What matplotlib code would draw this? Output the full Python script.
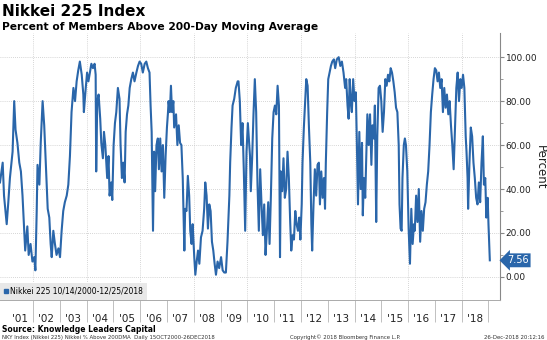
import numpy as np
import matplotlib
matplotlib.use("Agg")
import matplotlib.pyplot as plt
import matplotlib.transforms as mtransforms
from matplotlib.lines import Line2D
from matplotlib.ticker import FixedLocator, FormatStrFormatter, NullFormatter

# % of Nikkei 225 members above their 200-day moving average
years_a = [2000.77, 2000.87, 2000.92, 2001.02, 2001.08, 2001.14, 2001.24, 2001.30, 2001.35, 2001.42,
           2001.49, 2001.55, 2001.61, 2001.66, 2001.71, 2001.79, 2001.84, 2001.91, 2001.98, 2002.05,
           2002.09, 2002.14, 2002.17, 2002.24, 2002.29, 2002.36, 2002.42, 2002.49, 2002.55, 2002.61,
           2002.66, 2002.70, 2002.76, 2002.82, 2002.88, 2002.95, 2003.01, 2003.07, 2003.13, 2003.19,
           2003.26, 2003.32, 2003.38, 2003.44, 2003.51, 2003.57, 2003.63, 2003.69, 2003.75, 2003.82,
           2003.88]
pct_a = [43, 52, 37, 24, 34, 45, 57, 80, 67, 61, 52, 48, 37, 24, 12, 23, 10, 15, 7, 9,
         3, 30, 51, 42, 61, 80, 69, 48, 31, 27, 15, 9, 21, 15, 10, 13, 9, 21, 30, 34,
         37, 42, 55, 75, 86, 80, 89, 94, 98, 92, 83]

years_b = [2003.90, 2003.97, 2004.02, 2004.07, 2004.11, 2004.18, 2004.24, 2004.30, 2004.34, 2004.36,
           2004.40, 2004.45, 2004.51, 2004.55, 2004.61, 2004.65, 2004.70, 2004.74, 2004.77, 2004.82,
           2004.86, 2004.92, 2004.96, 2005.01, 2005.06, 2005.11, 2005.17, 2005.23, 2005.27, 2005.32,
           2005.37, 2005.42, 2005.46, 2005.51, 2005.56, 2005.61, 2005.67, 2005.73, 2005.79, 2005.86,
           2005.92, 2005.98, 2006.04, 2006.10, 2006.17, 2006.23, 2006.29, 2006.35, 2006.39, 2006.43,
           2006.48, 2006.52, 2006.56, 2006.61, 2006.66, 2006.70, 2006.75, 2006.80, 2006.85, 2006.90,
           2006.95, 2007.00, 2007.04]
pct_b = [75, 86, 93, 89, 92, 97, 95, 97, 92, 48, 80, 83, 72, 61, 54, 66, 60, 51, 45, 55,
         37, 43, 35, 60, 70, 75, 86, 81, 60, 45, 52, 43, 66, 74, 78, 86, 90, 93, 89, 93,
         96, 98, 97, 93, 97, 98, 95, 93, 78, 66, 21, 57, 39, 60, 63, 49, 63, 48, 60, 36,
         55, 68, 75]

years_c = [2007.06, 2007.11, 2007.15, 2007.19, 2007.24, 2007.27, 2007.34, 2007.39, 2007.44, 2007.49,
           2007.54, 2007.59, 2007.65, 2007.68, 2007.73, 2007.78, 2007.83, 2007.87, 2007.92, 2007.96,
           2008.02, 2008.06, 2008.11, 2008.16, 2008.21, 2008.27, 2008.33, 2008.39, 2008.43, 2008.48,
           2008.53, 2008.58, 2008.63, 2008.68, 2008.73, 2008.78, 2008.83, 2008.89, 2008.95, 2009.02,
           2009.08, 2009.14, 2009.20, 2009.26, 2009.33, 2009.36, 2009.41, 2009.45, 2009.51, 2009.57,
           2009.64, 2009.67, 2009.72, 2009.77, 2009.82, 2009.87, 2009.92, 2009.97, 2010.02]
pct_c = [80, 75, 87, 75, 80, 68, 74, 60, 69, 61, 60, 45, 12, 31, 30, 46, 37, 21, 15, 24,
         9, 1, 7, 12, 6, 18, 21, 31, 43, 37, 22, 33, 30, 16, 12, 6, 1, 7, 4, 9,
         3, 2, 2, 16, 37, 52, 68, 78, 81, 86, 89, 89, 80, 60, 70, 48, 21, 57, 70]

years_d = [2010.10, 2010.13, 2010.18, 2010.23, 2010.28, 2010.33, 2010.38, 2010.43, 2010.48, 2010.53,
           2010.58, 2010.63, 2010.68, 2010.73, 2010.78, 2010.83, 2010.88, 2010.93, 2010.98, 2011.03,
           2011.08, 2011.13, 2011.18, 2011.22, 2011.25, 2011.30, 2011.35, 2011.40, 2011.45, 2011.50,
           2011.55, 2011.60, 2011.64, 2011.69, 2011.74, 2011.79, 2011.84, 2011.89, 2011.94, 2011.98,
           2012.03, 2012.06, 2012.11, 2012.16, 2012.20, 2012.25, 2012.30, 2012.35, 2012.39, 2012.42,
           2012.47, 2012.52, 2012.57, 2012.62, 2012.67, 2012.71, 2012.76, 2012.81, 2012.86, 2012.90,
           2012.93, 2012.98, 2013.02, 2013.07, 2013.12, 2013.17, 2013.23]
pct_d = [55, 39, 54, 74, 90, 75, 42, 21, 49, 33, 19, 33, 10, 21, 34, 15, 37, 63, 75, 78,
         74, 87, 78, 9, 48, 39, 54, 36, 40, 57, 45, 25, 12, 19, 17, 30, 24, 21, 27, 17,
         33, 52, 68, 80, 90, 87, 68, 52, 24, 12, 33, 49, 37, 51, 52, 33, 48, 36, 45, 31,
         52, 75, 90, 93, 96, 98, 99]

years_e = [2013.28, 2013.34, 2013.41, 2013.47, 2013.53, 2013.59, 2013.65, 2013.69, 2013.74, 2013.78,
           2013.82, 2013.87, 2013.90, 2013.95, 2014.00, 2014.05, 2014.09, 2014.13, 2014.18, 2014.23,
           2014.28, 2014.31, 2014.35, 2014.40, 2014.44, 2014.48, 2014.53, 2014.58, 2014.63, 2014.67,
           2014.72, 2014.76, 2014.81, 2014.85, 2014.90, 2014.95, 2015.00, 2015.05, 2015.10, 2015.15,
           2015.20, 2015.25, 2015.30, 2015.35, 2015.40, 2015.45, 2015.50, 2015.55, 2015.60, 2015.65,
           2015.68, 2015.72, 2015.76, 2015.79, 2015.84, 2015.88, 2015.92, 2015.97, 2016.02, 2016.07,
           2016.12, 2016.17, 2016.22]
pct_e = [95, 99, 100, 96, 98, 93, 86, 90, 78, 72, 90, 78, 75, 90, 80, 84, 60, 33, 66, 40,
         61, 28, 45, 36, 55, 74, 60, 74, 51, 69, 63, 78, 25, 64, 86, 87, 80, 66, 75, 90,
         87, 92, 89, 95, 93, 89, 84, 77, 75, 60, 33, 22, 21, 45, 60, 63, 60, 48, 22, 6,
         31, 15, 24]

years_f = [2016.25, 2016.30, 2016.35, 2016.40, 2016.45, 2016.50, 2016.55, 2016.60, 2016.65, 2016.70,
           2016.75, 2016.80, 2016.85, 2016.90, 2016.95, 2017.00, 2017.05, 2017.10, 2017.15, 2017.20,
           2017.25, 2017.30, 2017.35, 2017.40, 2017.45, 2017.50, 2017.55, 2017.60, 2017.65, 2017.70,
           2017.75, 2017.80, 2017.85, 2017.90, 2017.95, 2018.00, 2018.05, 2018.10, 2018.15, 2018.18,
           2018.22, 2018.24, 2018.29, 2018.34, 2018.39, 2018.44, 2018.49, 2018.54, 2018.59, 2018.64,
           2018.69, 2018.74, 2018.79, 2018.83, 2018.88, 2018.92, 2018.97, 2019.00, 2019.05]
pct_f = [21, 37, 25, 40, 16, 30, 21, 31, 34, 42, 48, 60, 75, 83, 90, 95, 94, 89, 93, 86,
         90, 75, 86, 77, 83, 74, 80, 69, 60, 49, 68, 86, 93, 80, 90, 86, 92, 86, 64, 57,
         45, 31, 52, 68, 64, 52, 45, 36, 33, 43, 34, 52, 64, 42, 45, 27, 36, 24, 7.56]

year_labels = ["'01", "'02", "'03", "'04", "'05", "'06", "'07", "'08", "'09",
               "'10", "'11", "'12", "'13", "'14", "'15", "'16", "'17", "'18"]
last_value = 7.56

x = np.concatenate([years_a, years_b, years_c, years_d, years_e, years_f])
y = np.concatenate([pct_a, pct_b, pct_c, pct_d, pct_e, pct_f])

blue = '#2a66aa'
plt.rcParams['font.family'] = 'DejaVu Sans'

fig = plt.figure(figsize=(5.47, 3.40), dpi=100)
ax = fig.add_axes([0.0, 1 - 300 / 340, 500 / 547, 267 / 340])

ax.plot(x, y, color=blue, lw=1.5, zorder=3)

ax.set_xlim(2000.77, 2019.43)
ax.set_ylim(-10.5, 111)

# y axis on the right
ax.yaxis.tick_right()
ax.set_yticks(np.arange(0, 101, 20))
ax.yaxis.set_major_formatter(FormatStrFormatter('%.2f'))
ax.yaxis.set_minor_locator(FixedLocator(np.arange(10, 100, 20)))
ax.tick_params(axis='y', which='major', length=3, width=0.8, pad=1,
               labelsize=6.5, colors='#888888', labelcolor='#222222')
ax.tick_params(axis='y', which='minor', length=2, width=0.6, colors='#888888')

# x axis: separators at year boundaries, labels centred in the year
ax.xaxis.set_major_locator(FixedLocator(np.arange(2002, 2020)))
ax.xaxis.set_major_formatter(NullFormatter())
ax.xaxis.set_minor_locator(FixedLocator(np.arange(2001.5, 2019, 1.0)))
ax.set_xticklabels(year_labels, minor=True)
ax.tick_params(axis='x', which='major', length=16, width=0.7, colors='#c0c0c0')
ax.tick_params(axis='x', which='minor', length=0, pad=10, labelsize=7.5, labelcolor='#222222')

# grid
for v in np.arange(0, 101, 20):
    ax.axhline(v, color='#c8c8c8', lw=0.6, ls=(0, (1, 1.5)), zorder=1)
for g in np.arange(2002, 2019, 2):
    ax.axvline(g, color='#c8c8c8', lw=0.6, ls=(0, (1, 1.5)), zorder=1)

for s in ['top', 'left']:
    ax.spines[s].set_visible(False)
ax.spines['right'].set_color('#888888')
ax.spines['bottom'].set_color('#aaaaaa')
ax.spines['right'].set_linewidth(0.8)
ax.spines['bottom'].set_linewidth(0.7)

# legend
h = Line2D([], [], marker='s', color=blue, ls='none', markersize=3.3)
leg = ax.legend([h], ['Nikkei 225 10/14/2000-12/25/2018'], loc='lower left',
                bbox_to_anchor=(0, 0), borderaxespad=0, frameon=True, fancybox=False,
                facecolor='#e8e8e8', edgecolor='none', framealpha=1, fontsize=5.5,
                handlelength=0.6, handletextpad=0.2, borderpad=0.55)
leg.set_zorder(5)

# last value tag
trans = mtransforms.blended_transform_factory(ax.transAxes, ax.transData)
ax.text(1.014, last_value, '%.2f' % last_value, transform=trans, ha='left', va='center',
        color='white', fontsize=7, clip_on=False,
        bbox=dict(boxstyle='larrow,pad=0.2', fc=blue, ec='none'))

# titles and footer
fig.text(0.004, 1 - 11 / 340, 'Nikkei 225 Index', fontsize=11, fontweight='bold', va='center')
fig.text(0.004, 1 - 26.5 / 340, 'Percent of Members Above 200-Day Moving Average',
         fontsize=7.7, fontweight='bold', va='center')
fig.text(540 / 547, 1 - 167 / 340, 'Percent', rotation=270, fontsize=8.5,
         va='center', ha='center', color='#222222')
fig.text(0.004, 1 - 329 / 340, 'Source: Knowledge Leaders Capital', fontsize=5.5,
         fontweight='bold', va='center')
fig.text(0.004, 1 - 337.5 / 340,
         'NKY Index (Nikkei 225) Nikkei % Above 200DMA  Daily 15OCT2000-26DEC2018',
         fontsize=3.9, va='center', color='#333333')
fig.text(345 / 547, 1 - 337.5 / 340, 'Copyright\u00a9 2018 Bloomberg Finance L.P.',
         fontsize=3.9, va='center', ha='center', color='#333333')
fig.text(545 / 547, 1 - 337.5 / 340, '26-Dec-2018 20:12:16', fontsize=3.9,
         va='center', ha='right', color='#333333')

fig.savefig('out.png', dpi=100)
